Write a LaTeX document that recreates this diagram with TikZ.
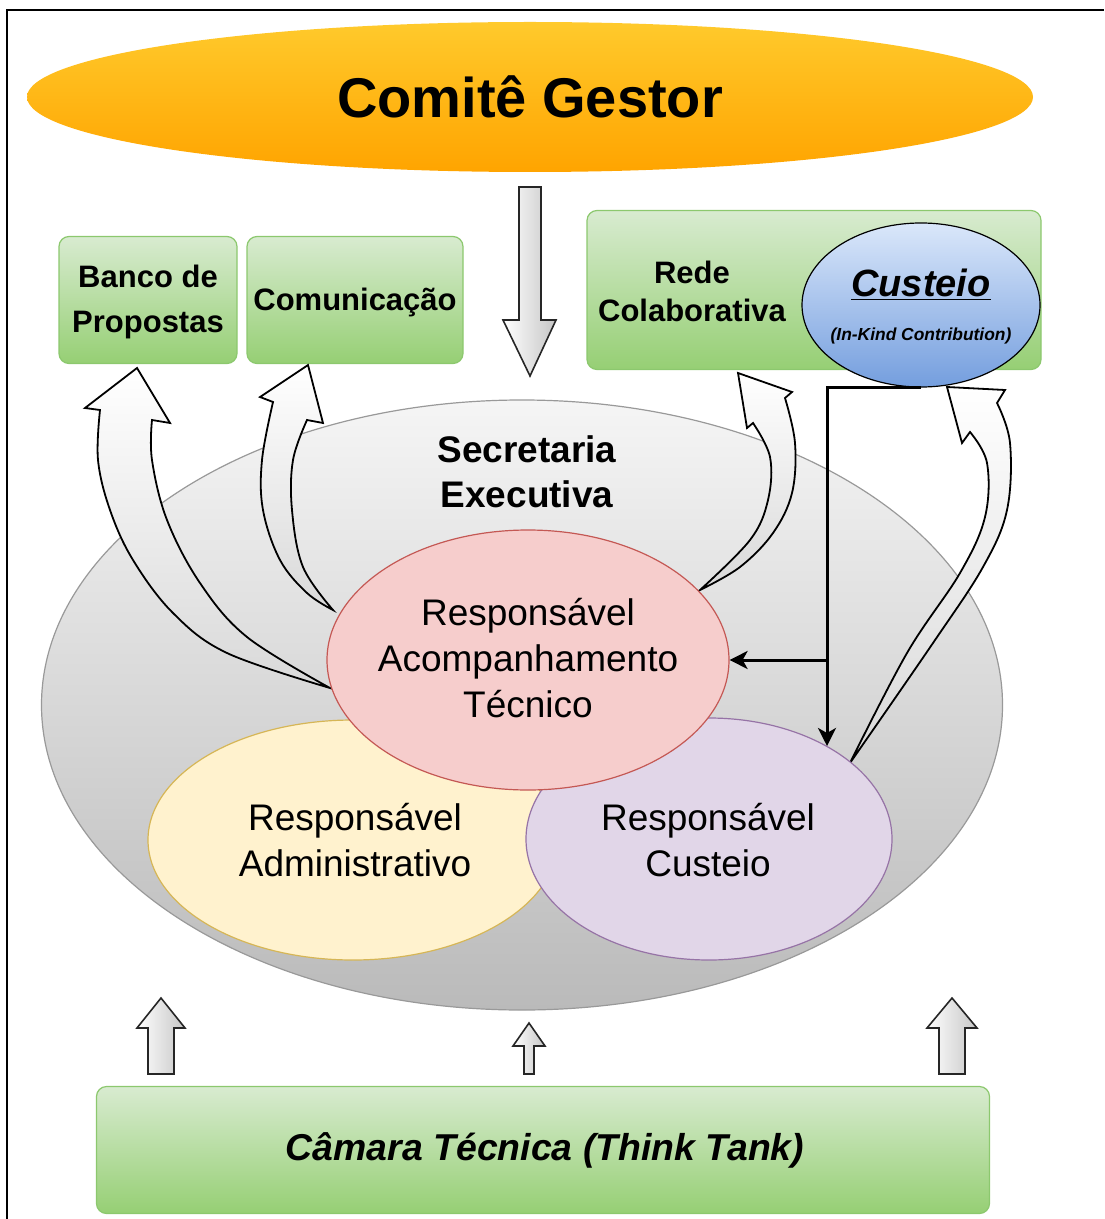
\documentclass[tikz,border=0pt]{standalone}
\usepackage{fontspec}
\setmainfont{Liberation Sans}
\usetikzlibrary{shapes.geometric,arrows.meta}

\definecolor{gestortop}{RGB}{255,202,44}
\definecolor{gestorbot}{RGB}{255,164,0}
\definecolor{boxtop}{RGB}{216,235,208}
\definecolor{boxbot}{RGB}{150,207,116}
\definecolor{boxline}{RGB}{140,200,110}
\definecolor{custtop}{RGB}{218,231,250}
\definecolor{custbot}{RGB}{116,158,222}
\definecolor{secrtop}{RGB}{245,245,245}
\definecolor{secrbot}{RGB}{186,186,186}
\definecolor{tecfill}{RGB}{246,205,204}
\definecolor{tecline}{RGB}{196,88,84}
\definecolor{admfill}{RGB}{255,242,206}
\definecolor{admline}{RGB}{214,182,86}
\definecolor{cusfill}{RGB}{225,214,232}
\definecolor{cusline}{RGB}{150,115,166}

\tikzset{
  greenbox/.style={draw=boxline, line width=0.6pt, top color=boxtop, bottom color=boxbot, rounded corners=5pt},
  blob/.style={ellipse, inner sep=0pt, line width=0.6pt},
  boxtext/.style={align=center, font=\bfseries\fontsize{15.5}{22.5}\selectfont},
  bloblabel/.style={align=center, font=\fontsize{18.5}{23}\selectfont},
  bigarrow/.style={draw=black!85, line width=0.8pt, left color=white, right color=gray!45},
  curvearrow/.style={draw=black, line width=0.9pt, top color=white, bottom color=gray!30},
  conn/.style={draw=black, line width=1.5pt, -{Stealth[length=9pt,width=9pt,inset=2.5pt]}},
}

\begin{document}
\begin{tikzpicture}[x=0.5pt, y=-0.5pt]
    \useasboundingbox (0,0) rectangle (1104,1219);
    \draw[line width=1pt] (7,1219) -- (7,10) -- (1104,10);

    % top
    \node[blob, minimum width=503pt, minimum height=75pt, top color=gestortop, bottom color=gestorbot,
          font=\bfseries\fontsize{28}{34}\selectfont] (gestor) at (530,97) {Comitê Gestor};
    \draw[bigarrow] (519,187) -- (541,187) -- (541,320) -- (556,320) -- (530,376) -- (503,320) -- (519,320) -- cycle;

    \node[greenbox, minimum width=89pt, minimum height=63.5pt] (banco) at (148,300) {};
    \node[boxtext] (bancolbl) at (148,302) {Banco de\\Propostas};
    \node[greenbox, minimum width=108pt, minimum height=63.5pt] (comun) at (355,300) {};
    \node[boxtext] (comunlbl) at (355,302) {Comunicação};
    \node[greenbox, minimum width=227pt, minimum height=79.5pt] (rede) at (814,290) {};
    \node[boxtext, font=\bfseries\fontsize{15.5}{19}\selectfont] (redelbl) at (692,291) {Rede\\Colaborativa};
    \node[blob, draw=black, top color=custtop, bottom color=custbot, minimum width=119pt, minimum height=82pt] (cust) at (921,305) {};
    \node[font=\bfseries\itshape\fontsize{19}{22}\selectfont] (custlbl) at (921,285) {\underline{Custeio}};
    \node[font=\bfseries\itshape\fontsize{8.7}{10}\selectfont] (kindlbl) at (921,336) {(In-Kind Contribution)};

    % secretaria
    \node[blob, draw=gray!80, top color=secrtop, bottom color=secrbot, minimum width=480.5pt, minimum height=305pt] (secr) at (522,705) {};
    \node[align=center, font=\bfseries\fontsize{18.5}{22.5}\selectfont] (secrlbl) at (527,472) {Secretaria\\Executiva};

    \draw[curvearrow] plot[smooth, tension=0.6] coordinates {(330,688) (227,653) (173,613) (133,560) (110,510) (98,460) (100,410)}
        -- (85,408) -- (137,368) -- (170,423) -- (152,420)
        -- plot[smooth, tension=0.6] coordinates {(152,420) (152,460) (167,520) (200,583) (247,637) (330,688)} -- cycle;
    \draw[curvearrow] plot[smooth, tension=0.6] coordinates {(333,610) (307,593) (280,560) (263,510) (262,460) (273,402)}
        -- (260,397) -- (308,365) -- (323,423) -- (307,420)
        -- plot[smooth, tension=0.6] coordinates {(307,420) (293,460) (292,510) (303,567) (333,610)} -- cycle;
    \draw[curvearrow] plot[smooth, tension=0.6] coordinates {(700,590) (740,567) (773,533) (792,493) (795,443) (785,398)}
        -- (792,392) -- (738,373) -- (747,428) -- (753,423)
        -- plot[smooth, tension=0.6] coordinates {(753,423) (770,457) (768,500) (750,540) (700,590)} -- cycle;
    \draw[curvearrow] plot[smooth, tension=0.6] coordinates {(850,763) (933,643) (983,567) (1007,510) (1010,443) (997,403)}
        -- (1005,390) -- (947,387) -- (962,443) -- (970,432)
        -- plot[smooth, tension=0.6] coordinates {(970,432) (987,463) (985,517) (960,573) (907,653) (850,763)} -- cycle;

    \node[blob, draw=admline, fill=admfill, minimum width=205pt, minimum height=120pt] (adm) at (353,840) {};
    \node[blob, draw=cusline, fill=cusfill, minimum width=183pt, minimum height=121pt] (cus) at (709,839) {};
    \node[blob, draw=tecline, fill=tecfill, minimum width=201pt, minimum height=130pt] (tec) at (528,660) {};
    \node[bloblabel] (admlbl) at (355,840) {Responsável\\Administrativo};
    \node[bloblabel] (cuslbl) at (708,840) {Responsável\\Custeio};
    \node[bloblabel] (teclbl) at (528,658) {Responsável\\Acompanhamento\\Técnico};

    \coordinate (jb) at (827,746);
    \draw[conn] (cust.south) -| (jb);
    \draw[conn] (jb |- tec.east) -- (tec.east);

    % bottom
    \foreach \x/\t/\b/\h/\s in {161/998/1028/24/13, 529/1023/1046/16/5, 952/998/1028/25/13}
        \draw[bigarrow] (\x-\s,1074) -- (\x-\s,\b) -- (\x-\h,\b) -- (\x,\t) -- (\x+\h,\b) -- (\x+\s,\b) -- (\x+\s,1074) -- cycle;
    \node[greenbox, minimum width=446.5pt, minimum height=63.5pt] (camara) at (543,1150) {};
    \node[font=\bfseries\itshape\fontsize{18.7}{22}\selectfont] (camaralbl) at (545,1150) {Câmara Técnica (Think Tank)};
\end{tikzpicture}
\end{document}
